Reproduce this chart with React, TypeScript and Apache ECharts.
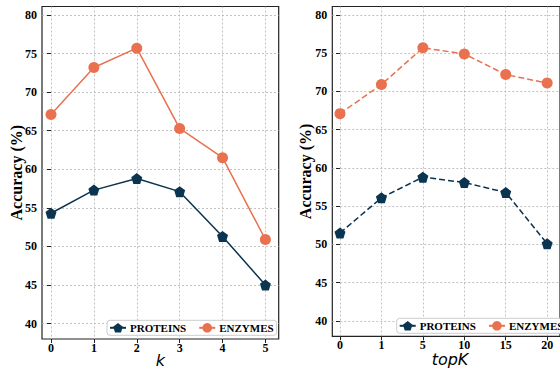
import React, { useEffect, useRef } from "react";
import * as echarts from "echarts";

const kValues = [0, 1, 2, 3, 4, 5];
const topKLabels = ["0", "1", "5", "10", "15", "20"];
const topKIndex = [0, 1, 2, 3, 4, 5];
const yTicks = [40, 45, 50, 55, 60, 65, 70, 75, 80];
const proteinsK = [54.3, 57.3, 58.8, 57.1, 51.3, 45.0];
const enzymesK = [67.1, 73.2, 75.7, 65.3, 61.5, 50.9];
const proteinsTopK = [51.5, 56.1, 58.8, 58.1, 56.8, 50.1];
const enzymesTopK = [67.1, 70.9, 75.7, 74.9, 72.2, 71.1];

const NAVY = "#0B3450";
const ORANGE = "#E9714F";
const SERIF = "Liberation Serif, Times New Roman, serif";
const SANS = "DejaVu Sans, sans-serif";
const PENTAGON =
  "path://M0,-1 L0.951,-0.309 L0.588,0.809 L-0.588,0.809 L-0.951,-0.309 Z";

const splitLine = {
  show: true,
  lineStyle: { color: "#b3b3b3", type: [2, 2], width: 0.8 },
};
const tickStyle = { color: "#222", width: 1 };
const labelStyle = {
  fontFamily: SERIF,
  fontWeight: "bold" as const,
  fontSize: 12,
  color: "#000",
};
const legendText = { ...labelStyle, fontSize: 11 };

function xAxisCfg(grid: number, min: number, max: number, ticks: number[], fmt?: (v: number) => string) {
  return {
    type: "value",
    gridIndex: grid,
    min,
    max,
    splitNumber: 5,
    axisLine: { show: false },
    axisTick: { show: true, inside: false, length: 4, lineStyle: tickStyle, customValues: ticks },
    axisLabel: {
      ...labelStyle,
      margin: 3,
      customValues: ticks,
      formatter: fmt ? fmt : (v: number) => String(v),
    },
    splitLine,
  };
}

function yAxisCfg(grid: number) {
  return {
    type: "value",
    gridIndex: grid,
    min: 38,
    max: 81.1,
    splitNumber: 8,
    axisLine: { show: false },
    axisTick: { show: true, inside: false, length: 4, lineStyle: tickStyle, customValues: yTicks },
    axisLabel: { ...labelStyle, margin: 5, customValues: yTicks },
    splitLine,
  };
}

function legendCfg(left: number, top: number) {
  return {
    left,
    top,
    width: 240,
    orient: "horizontal",
    itemWidth: 16,
    itemHeight: 12,
    itemGap: 12,
    padding: [2, 3, 2, 2],
    backgroundColor: "#fff",
    borderColor: "#cccccc",
    borderWidth: 1,
    borderRadius: 3,
    textStyle: { ...legendText, padding: [0, 0, 0, -1] },
    lineStyle: { type: "solid" },
    data: ["PROTEINS", "ENZYMES"],
    selectedMode: false,
  };
}

export default function App() {
  const ref = useRef<HTMLDivElement>(null);
  useEffect(() => {
    document.body.style.margin = "0";
    if (!ref.current) return;
    const chart = echarts.init(ref.current, undefined, { renderer: "svg" });
    const pairs = (xs: number[], ys: number[]) => xs.map((x, i) => [x, ys[i]]);
    const option: any = {
      animation: false,
      backgroundColor: "#fff",
      grid: [
        { left: 42, top: 6.5, right: 281.3, bottom: 30, show: true, borderColor: "#222", borderWidth: 1.2 },
        { left: 332.3, top: 6.5, right: -8.4, bottom: 32.7, show: true, borderColor: "#222", borderWidth: 1.2 },
      ],
      xAxis: [
        xAxisCfg(0, -0.21, 5.31, kValues),
        xAxisCfg(1, -0.186, 5.31, topKIndex, (v: number) => topKLabels[Math.round(v)] ?? ""),
      ],
      yAxis: [yAxisCfg(0), yAxisCfg(1)],
      legend: [legendCfg(107, 320.3), legendCfg(396.7, 318.3)],
      series: [
        {
          name: "PROTEINS",
          type: "line",
          xAxisIndex: 0,
          yAxisIndex: 0,
          data: pairs(kValues, proteinsK),
          symbol: PENTAGON,
          symbolSize: 11,
          itemStyle: { color: NAVY },
          lineStyle: { color: NAVY, width: 1.5 },
        },
        {
          name: "ENZYMES",
          type: "line",
          xAxisIndex: 0,
          yAxisIndex: 0,
          data: pairs(kValues, enzymesK),
          symbol: "circle",
          symbolSize: 11,
          itemStyle: { color: ORANGE },
          lineStyle: { color: ORANGE, width: 1.5 },
        },
        {
          name: "PROTEINS",
          type: "line",
          xAxisIndex: 1,
          yAxisIndex: 1,
          data: pairs(topKIndex, proteinsTopK),
          symbol: PENTAGON,
          symbolSize: 11,
          itemStyle: { color: NAVY },
          lineStyle: { color: NAVY, width: 1.5, type: [6, 3] },
        },
        {
          name: "ENZYMES",
          type: "line",
          xAxisIndex: 1,
          yAxisIndex: 1,
          data: pairs(topKIndex, enzymesTopK),
          symbol: "circle",
          symbolSize: 11,
          itemStyle: { color: ORANGE },
          lineStyle: { color: ORANGE, width: 1.5, type: [6, 3] },
        },
      ],
      graphic: [
        {
          type: "text",
          x: 16,
          y: 172.7,
          rotation: Math.PI / 2,
          style: {
            text: "Accuracy (%)",
            fontFamily: SERIF,
            fontWeight: "bold",
            fontSize: 16,
            fill: "#000",
            align: "center",
            verticalAlign: "middle",
          },
        },
        {
          type: "text",
          x: 305.7,
          y: 171.4,
          rotation: Math.PI / 2,
          style: {
            text: "Accuracy (%)",
            fontFamily: SERIF,
            fontWeight: "bold",
            fontSize: 16,
            fill: "#000",
            align: "center",
            verticalAlign: "middle",
          },
        },
        {
          type: "text",
          x: 160.4,
          y: 360.5,
          style: {
            text: "k",
            fontFamily: SANS,
            fontStyle: "italic",
            fontSize: 16,
            fill: "#000",
            align: "center",
            verticalAlign: "middle",
          },
        },
        {
          type: "text",
          x: 450,
          y: 359.5,
          style: {
            text: "topK",
            fontFamily: SANS,
            fontStyle: "italic",
            fontSize: 16,
            fill: "#000",
            align: "center",
            verticalAlign: "middle",
          },
        },
      ],
    };
    chart.setOption(option);
    return () => chart.dispose();
  }, []);
  return <div ref={ref} style={{ width: 560, height: 369 }} />;
}
